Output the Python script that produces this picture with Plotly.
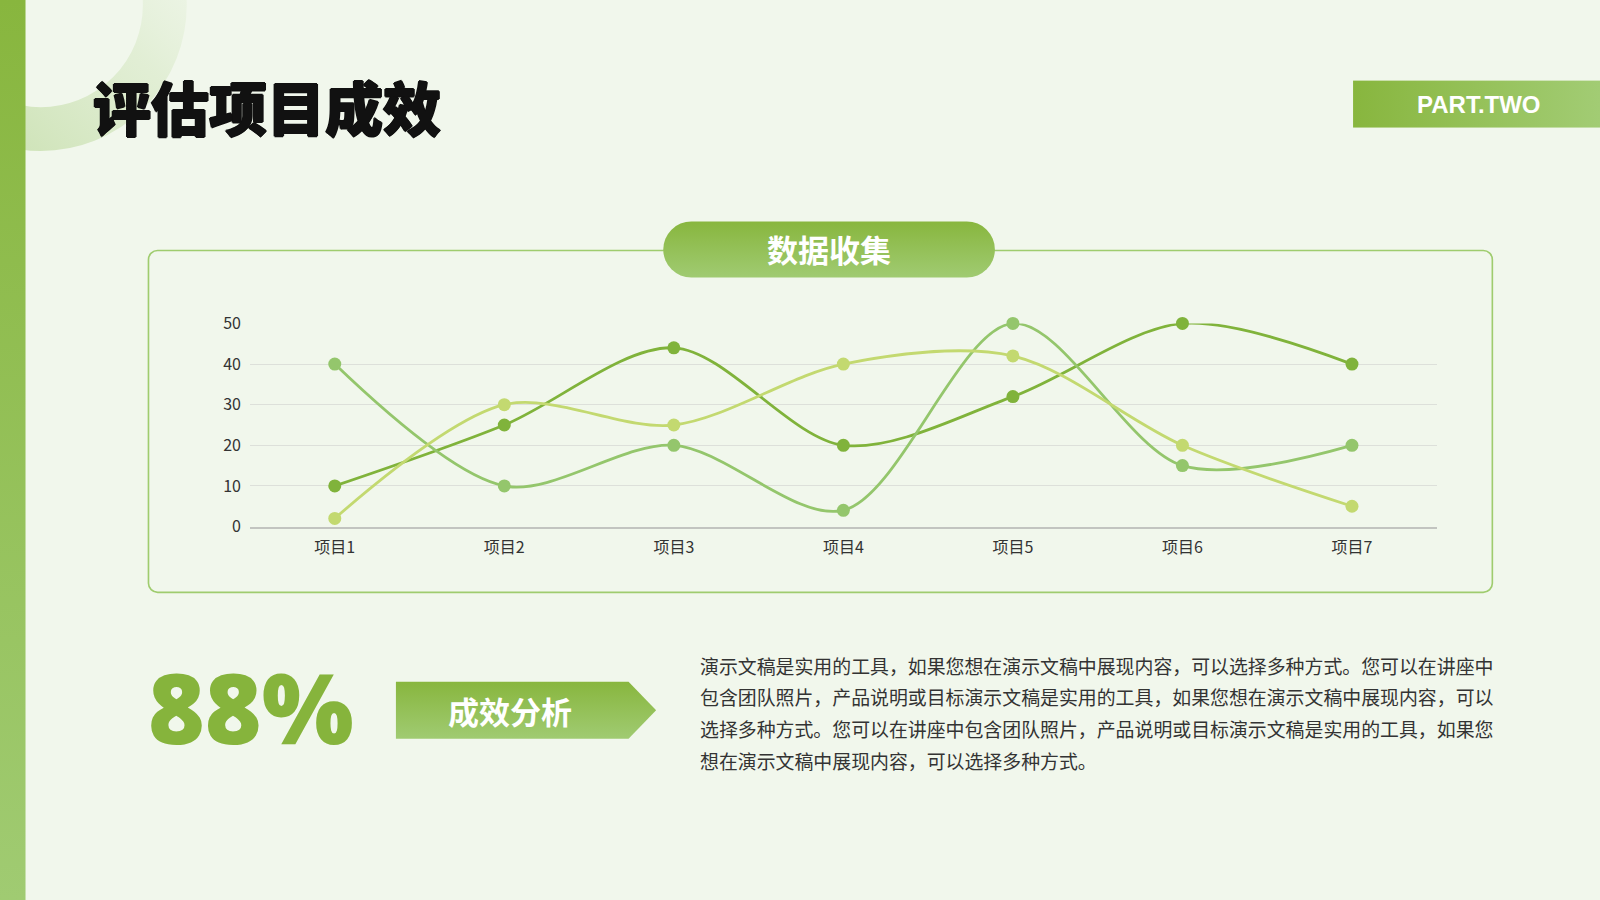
import base64

import plotly.graph_objects as go

# chart data
categories = ["项目1", "项目2", "项目3", "项目4", "项目5", "项目6", "项目7"]
series_a = [10, 25, 44, 20, 32, 50, 40]
series_b = [40, 10, 20, 4, 50, 15, 20]
series_c = [2, 30, 25, 40, 42, 20, 5]
series_names = ["系列1", "系列2", "系列3"]
y_ticks = [0, 10, 20, 30, 40, 50]

title = "评估项目成效"
tag_text = "PART.TWO"
box_title = "数据收集"
big_number = "88%"
arrow_label = "成效分析"
paragraph_lines = [
    "演示文稿是实用的工具，如果您想在演示文稿中展现内容，可以选择多种方式。您可以在讲座中",
    "包含团队照片，产品说明或目标演示文稿是实用的工具，如果您想在演示文稿中展现内容，可以",
    "选择多种方式。您可以在讲座中包含团队照片，产品说明或目标演示文稿是实用的工具，如果您",
    "想在演示文稿中展现内容，可以选择多种方式。",
]

# design was laid out on a 1568x882 canvas, converted to paper fractions
W, H = 1568, 882
BG = "#f1f7ec"
CJK = "Noto Sans CJK SC"
line_colors = ["#80b33b", "#94c66c", "#c3d970"]


def px(x):
    return x / W


def py(y):
    return 1 - y / H


# decorative background drawn once as an svg with gradients
svg = f"""<svg xmlns="http://www.w3.org/2000/svg" width="{W}" height="{H}" viewBox="0 0 {W} {H}" preserveAspectRatio="none">
<defs>
  <linearGradient id="v" x1="0" y1="0" x2="0" y2="1">
    <stop offset="0" stop-color="#88b63e"/><stop offset="1" stop-color="#a0cb72"/>
  </linearGradient>
  <linearGradient id="h" x1="0" y1="0" x2="1" y2="0">
    <stop offset="0" stop-color="#88b63e"/><stop offset="1" stop-color="#a2cc74"/>
  </linearGradient>
  <linearGradient id="ring" x1="0" y1="1" x2="1" y2="0">
    <stop offset="0" stop-color="#b8d696" stop-opacity="0.75"/>
    <stop offset="0.6" stop-color="#cfe4b9" stop-opacity="0.45"/>
    <stop offset="1" stop-color="#e6f1dc" stop-opacity="0.1"/>
  </linearGradient>
</defs>
<circle cx="40" cy="5" r="121.5" fill="none" stroke="url(#ring)" stroke-width="43"/>
<rect x="0" y="0" width="25" height="{H}" fill="url(#v)"/>
<rect x="1326" y="79" width="242" height="46" fill="url(#h)"/>
<rect x="145.5" y="245.5" width="1317" height="335" rx="9" fill="none" stroke="#9fcc6e" stroke-width="1.6"/>
<rect x="650" y="217" width="325" height="55" rx="27.5" fill="url(#v)"/>
<path d="M388 668 L616 668 L643 696 L616 724 L388 724 Z" fill="url(#v)"/>
</svg>"""
svg_uri = "data:image/svg+xml;base64," + base64.b64encode(svg.encode("utf-8")).decode()

fig = go.Figure()

for name, values, color in zip(series_names, [series_a, series_b, series_c], line_colors):
    fig.add_trace(
        go.Scatter(
            x=categories,
            y=values,
            name=name,
            mode="lines+markers",
            line=dict(color=color, width=2.8, shape="spline", smoothing=0.9),
            marker=dict(color=color, size=13),
            cliponaxis=False,
        )
    )

fig.add_layout_image(
    dict(
        source=svg_uri,
        xref="paper",
        yref="paper",
        x=0,
        y=1,
        sizex=1,
        sizey=1,
        xanchor="left",
        yanchor="top",
        sizing="stretch",
        layer="below",
    )
)

# thin text-shadow ring makes the title look like a heavier display face
heavy = "0.9px 0 0 #111111, -0.9px 0 0 #111111, 0 0.9px 0 #111111, 0 -0.9px 0 #111111"

annotations = [
    dict(text=title, x=px(89), y=py(104), xanchor="left", yanchor="middle",
         font=dict(family=CJK, size=58, color="#111111", weight=900, shadow=heavy)),
    dict(text=tag_text, x=px(1449), y=py(102), xanchor="center", yanchor="middle",
         font=dict(family="Liberation Sans, Arial", size=24, color="#ffffff", weight="bold")),
    dict(text=box_title, x=px(812), y=py(244), xanchor="center", yanchor="middle",
         font=dict(family=CJK, size=31, color="#ffffff", weight="bold")),
    dict(text=big_number, x=px(246), y=py(692), xanchor="center", yanchor="middle",
         font=dict(family="Open Sans", size=97, color="#86b43c", weight=800)),
    dict(text=arrow_label, x=px(500), y=py(696), xanchor="center", yanchor="middle",
         font=dict(family=CJK, size=31, color="#ffffff", weight="bold")),
]
for i, line in enumerate(paragraph_lines):
    annotations.append(
        dict(text=line, x=px(684), y=py(652 + 31 * i), xanchor="left", yanchor="middle",
             font=dict(family=CJK, size=18.9, color="#333333"))
    )
for a in annotations:
    a.update(xref="paper", yref="paper", showarrow=False)

fig.update_layout(
    width=1600,
    height=900,
    margin=dict(l=0, r=0, t=0, b=0, pad=0, autoexpand=False),
    paper_bgcolor=BG,
    plot_bgcolor="rgba(0,0,0,0)",
    showlegend=False,
    annotations=annotations,
    font=dict(family=CJK, size=16, color="#333333"),
    xaxis=dict(
        domain=[px(245), px(1408)],
        type="category",
        range=[-0.5, len(categories) - 0.5],
        showgrid=False,
        showline=True,
        linecolor="#c2c4c0",
        linewidth=1.5,
        ticks="",
        ticklabelstandoff=6,
        tickfont=dict(family=CJK, size=16, color="#333333"),
        automargin=False,
        fixedrange=True,
    ),
    yaxis=dict(
        domain=[py(516), py(317)],
        range=[0, 50],
        tickvals=y_ticks,
        showgrid=True,
        gridcolor="#dde0da",
        gridwidth=1,
        zeroline=False,
        showline=False,
        ticks="",
        ticklabelstandoff=8,
        tickfont=dict(family=CJK, size=16, color="#333333"),
        automargin=False,
        fixedrange=True,
    ),
)

# pin the slide to the top-left corner of the window, no page margin
pin_js = (
    "document.documentElement.style.margin='0';"
    "document.body.style.margin='0';"
    "document.body.style.overflow='hidden';"
    "var d=document.getElementById('{plot_id}');"
    "d.style.position='fixed';d.style.left='0px';d.style.top='0px';"
)
fig.write_html("out.html", config={"displayModeBar": False}, post_script=pin_js)
